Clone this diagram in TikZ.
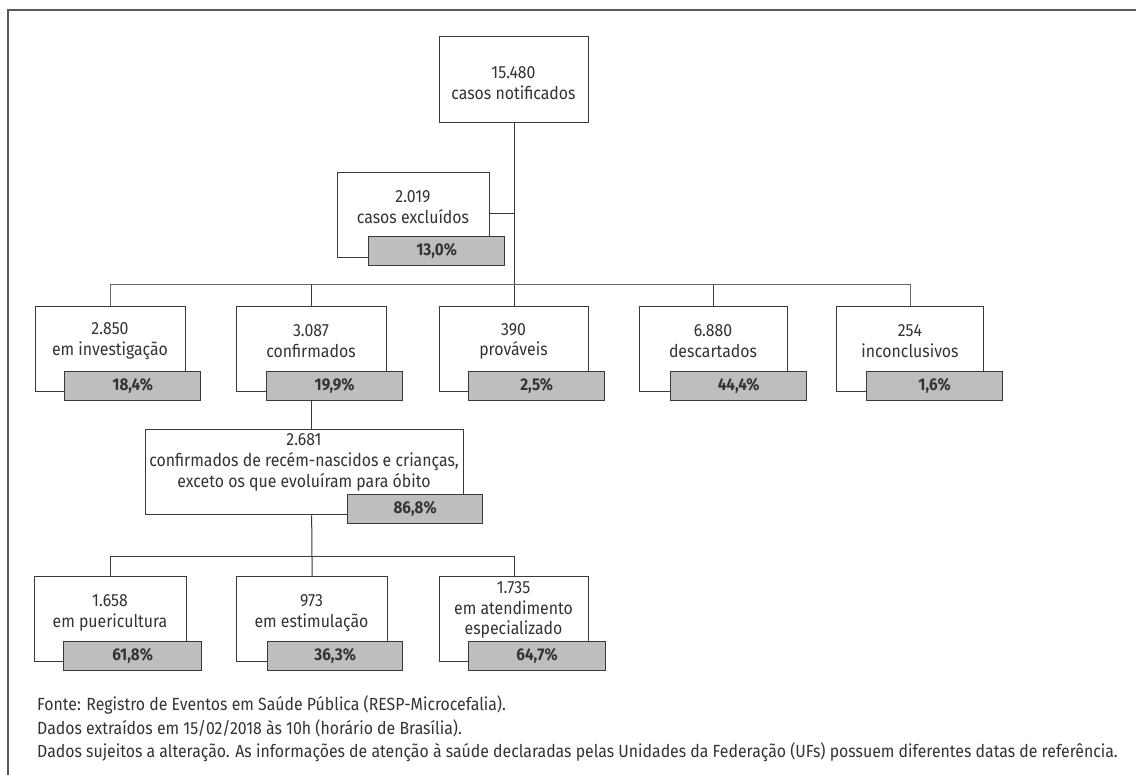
\documentclass[tikz,border=0pt]{standalone}
\usepackage{fontspec}
\setmainfont{Fira Sans}[FakeStretch=0.9]
\pgfdeclarelayer{bg}
\pgfsetlayers{bg,main}
\definecolor{ink}{HTML}{3A3A3A}
\definecolor{txt}{HTML}{333333}
\definecolor{pctfill}{HTML}{BEBEC0}
\tikzset{
  box/.style={draw=ink, line width=1.3pt, fill=white, minimum width=150pt, minimum height=85pt, inner sep=0pt, anchor=north west},
  pct/.style={draw=ink, line width=1.3pt, fill=pctfill, minimum width=136pt, minimum height=29pt, inner sep=0pt, anchor=north west, font=\fontsize{17}{18}\selectfont\bfseries, text=txt},
  lbl/.style={text=txt, font=\fontsize{17.6}{20.8}\selectfont, align=center, inner sep=0pt},
  conn/.style={draw=ink, line width=1pt},
  foot/.style={text=txt, font=\fontsize{17.6}{20}\selectfont, anchor=west, inner sep=0pt}
}
\begin{document}
\begin{tikzpicture}[x=1pt,y=-1pt]
\useasboundingbox (0,0) rectangle (1136,775);
% frame
\draw[color=black!65, line width=2pt] (8,775) -- (8,10) -- (1136,10);

% top
\node[box, minimum width=149pt, minimum height=86pt] (top) at (439,36) {};
\node[lbl] at (513.5,83) {15.480\\casos notificados};

% excluded
\node[box, minimum width=152pt] (exc) at (337,172) {};
\node[lbl] at (413,207.5) {2.019\\casos excluídos};
\node[pct] (pexc) at (368,236) {13,0\%};

% level 2
\node[box] (b1) at (35,306) {};
\node[lbl] at (110,341.5) {2.850\\em investigação};
\node[pct] (p1) at (64,371) {18,4\%};

\node[box] (b2) at (236,306) {};
\node[lbl] at (311,341.5) {3.087\\confirmados};
\node[pct] (p2) at (266,371) {19,9\%};

\node[box, minimum width=149pt] (b3) at (439,306) {};
\node[lbl] at (513.5,341.5) {390\\prováveis};
\node[pct] (p3) at (468,371) {2,5\%};

\node[box, minimum width=148pt] (b4) at (639,306) {};
\node[lbl] at (713,341.5) {6.880\\descartados};
\node[pct] (p4) at (670,371) {44,4\%};

\node[box, minimum width=147pt] (b5) at (836,306) {};
\node[lbl] at (910,341.5) {254\\inconclusivos};
\node[pct] (p5) at (866,371) {1,6\%};

% confirmados children
\node[box, minimum width=318pt] (cc) at (145,429) {};
\node[lbl] at (304,462.5) {2.681\\confirmados de recém-nascidos e crianças,\\exceto os que evoluíram para óbito};
\node[pct, minimum width=135pt] (pcc) at (347,494) {86,8\%};

% level 3
\node[box, minimum width=152pt] (c1) at (34,576) {};
\node[lbl] at (110,613) {1.658\\em puericultura};
\node[pct, minimum width=138pt] (q1) at (63,641) {61,8\%};

\node[box, minimum width=151pt] (c2) at (236,576) {};
\node[lbl] at (311.5,613) {973\\em estimulação};
\node[pct, minimum width=135pt] (q2) at (267,641) {36,3\%};

\node[box, minimum width=149pt] (c3) at (439,576) {};
\node[lbl] at (513.5,610) {1.735\\em atendimento\\especializado};
\node[pct, minimum width=137pt] (q3) at (468,641) {64,7\%};

% connectors
\begin{pgfonlayer}{bg}
\draw[conn] (top.south) -- (top.south |- b3.north);
\draw[conn] (exc.east |- 0,214) -- (top.south |- 0,214);
\draw[conn, draw=black!60] (b1.north) -- ++(0,-21) -| (b5.north);
\draw[conn] (b2.north) -- ++(0,-21);
\draw[conn] (b4.north) -- ++(0,-21);
\draw[conn] (b2.south) -- (cc.north -| b2.south);
\draw[conn] (cc.south -| b2.south) -- (c2.north);
\draw[conn] (c1.north) -- ++(0,-20) -| (c3.north);
\end{pgfonlayer}

% footnotes
\node[foot] (f1) at (37,705) {Fonte: Registro de Eventos em Saúde Pública (RESP-Microcefalia).};
\node[foot] (f2) at (37,728.5) {Dados extraídos em 15/02/2018 às 10h (horário de Brasília).};
\node[foot] (f3) at (37,752) {Dados sujeitos a alteração. As informações de atenção à saúde declaradas pelas Unidades da Federação (UFs) possuem diferentes datas de referência.};
\end{tikzpicture}
\end{document}
